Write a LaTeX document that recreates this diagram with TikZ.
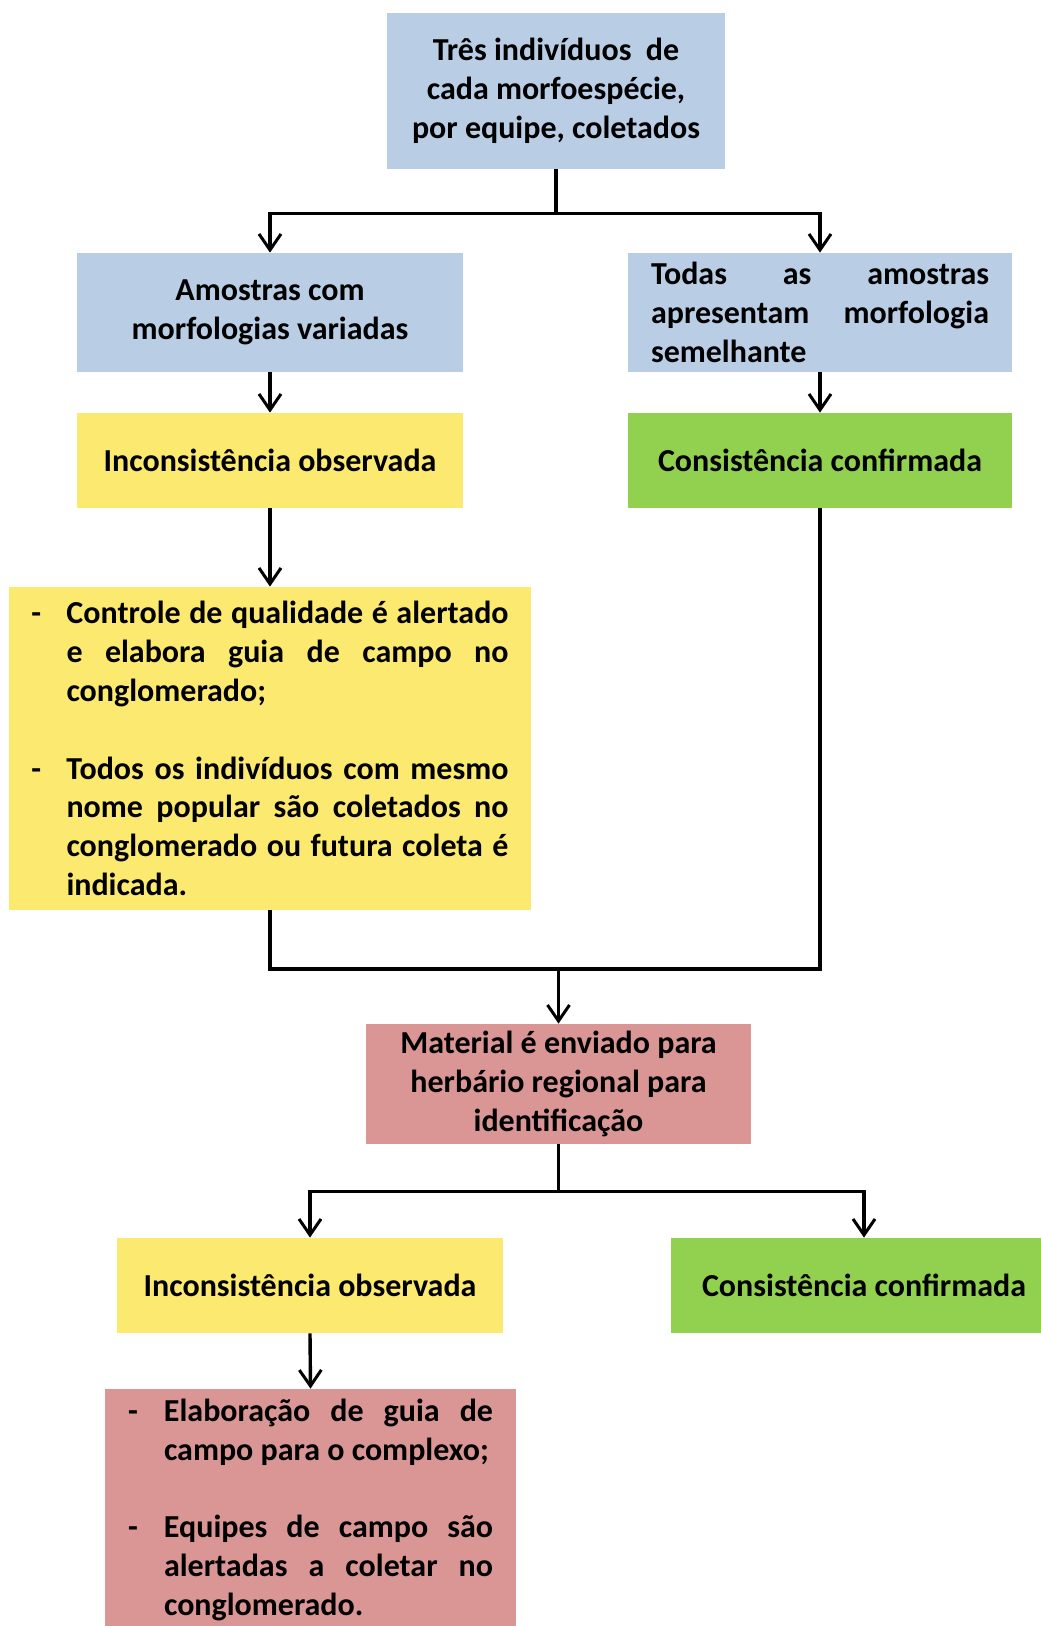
\documentclass[tikz,border=0pt]{standalone}
\usepackage{fontspec}
\setmainfont{Carlito}
\usetikzlibrary{arrows.meta}
\definecolor{cblue}{HTML}{B9CDE5}
\definecolor{cyel}{HTML}{FCE96F}
\definecolor{cgreen}{HTML}{92D050}
\definecolor{cred}{HTML}{D99694}
\newdimen\ind
\newcommand\jl[2]{\hbox to \hsize{\spaceskip=\fontdimen2\font plus 1fil minus .35\fontdimen2\font
  \hbox to \ind{#1\hfil}#2}}
\newcommand\rl[2]{\hbox to \hsize{\spaceskip=\fontdimen2\font minus .3\fontdimen2\font
  \hbox to \ind{#1\hfil}#2\hfil}}
\newcommand\lines[2]{\vbox{\ind=#1\relax #2}}
\tikzset{
  bx/.style 2 args={draw=none, inner sep=0pt, minimum width=#1*0.5pt, minimum height=#2*0.5pt,
    font=\fontsize{16}{19.4}\selectfont\bfseries, align=center},
  ln/.style={line width=1.7pt, draw=black},
  arr/.style={ln, -{Straight Barb[length=8pt,width=11pt,line width=1.5pt]}}
}
\begin{document}
\begin{tikzpicture}[x=0.5pt,y=-0.5pt]
\useasboundingbox (0,0) rectangle (1040,1626);
\node[bx={338}{156}, fill=cblue] (top) at (556,91) {Três indivíduos~~de\\cada morfoespécie,\\por equipe, coletados};
\node[bx={386}{119}, fill=cblue] (amo) at (270,312.5) {Amostras com\\morfologias variadas};
\node[bx={384}{119}, fill=cblue, text width=169pt, align=left] (tod) at (820,312.5)
  {\lines{0pt}{\jl{}{Todas as amostras}\jl{}{apresentam morfologia}\rl{}{semelhante}}};
\node[bx={386}{95}, fill=cyel] (inc1) at (270,460.5) {Inconsistência observada};
\node[bx={384}{95}, fill=cgreen] (con1) at (820,460.5) {Consistência confirmada};
\node[bx={522}{323}, fill=cyel, text width=238.5pt, align=left] (big) at (270,748.5)
  {\lines{17.5pt}{%
   \jl{-}{Controle de qualidade é alertado}%
   \jl{}{e elabora guia de campo no}%
   \rl{}{conglomerado;}%
   \hbox{}%
   \jl{-}{Todos os indivíduos com mesmo}%
   \jl{}{nome popular são coletados no}%
   \jl{}{conglomerado ou futura coleta é}%
   \rl{}{indicada.}}};
\node[bx={385}{120}, fill=cred] (mat) at (558.5,1084) {Material é enviado para\\herbário regional para\\identificação};
\node[bx={386}{95}, fill=cyel] (inc2) at (310,1285.5) {Inconsistência observada};
\node[bx={386}{95}, fill=cgreen] (con2) at (864,1285.5) {Consistência confirmada};
\node[bx={411}{242}, fill=cred, text width=182.5pt, align=left] (red2) at (310.5,1510)
  {\lines{18pt}{%
   \jl{-}{Elaboração de guia de}%
   \rl{}{campo para o complexo;}%
   \hbox{}%
   \jl{-}{Equipes de campo são}%
   \jl{}{alertadas a coletar no}%
   \rl{}{conglomerado.}}};
% connectors
\path (top.south) ++(0,44) coordinate (s1);
\draw[ln] (top.south) -- (s1);
\draw[arr] (s1) -| (amo.north);
\draw[arr] (s1) -| (tod.north);
\draw[arr] (amo.south) -- (inc1.north);
\draw[arr] (tod.south) -- (con1.north);
\draw[arr] (inc1.south) -- (big.north);
\coordinate (m) at (558.5,969);
\draw[ln] (big.south) |- (m) -| (con1.south);
\draw[arr] (m) -- (mat.north);
\path (mat.south) ++(0,47) coordinate (s2);
\draw[ln] (mat.south) -- (s2);
\draw[arr] (s2) -| (inc2.north);
\draw[arr] (s2) -| (con2.north);
\draw[arr] (inc2.south) -- (red2.north);
\end{tikzpicture}
\end{document}
